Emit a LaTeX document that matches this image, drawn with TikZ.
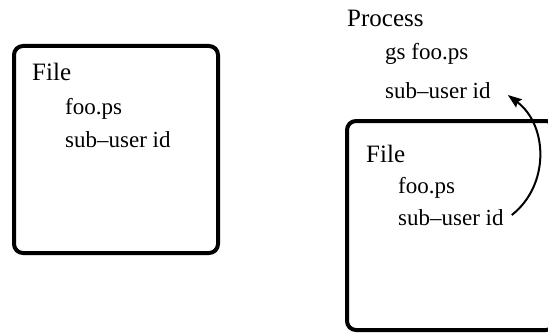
\documentclass[tikz,border=0pt]{standalone}
\usepackage{fontspec}
\setmainfont{Liberation Serif}
\usetikzlibrary{arrows.meta}
\begin{document}
\begin{tikzpicture}[x=1pt,y=-1pt,
  frame/.style={line width=4pt,rounded corners=9pt},
  head/.style={anchor=base west,inner sep=0pt,font=\fontsize{25}{30}\selectfont},
  item/.style={anchor=base west,inner sep=0pt,font=\fontsize{23}{28}\selectfont},
  flow/.style={line width=2pt,-{Stealth[length=14pt,width=10pt,inset=2pt]}}]
\useasboundingbox (0,0) rectangle (548,334);

% standalone file
\draw[frame] (14,46) rectangle (218,253);
\node[head] (fileA) at (32,81) {File};
\node[item] (nameA) at (65,114) {foo.ps};
\node[item] (subA) at (65,147) {sub\textendash user id};

% process reading the file
\node[head] (proc) at (347,27) {Process};
\node[item] (cmd) at (385,60) {gs foo.ps};
\node[item] (subP) at (385,99) {sub\textendash user id};

\draw[frame] (347,121) rectangle (555,330);
\node[head] (fileB) at (366,162) {File};
\node[item] (nameB) at (398,193) {foo.ps};
\node[item] (subB) at (398,225) {sub\textendash user id};

% sub-user id handed from the file to the process
\coordinate (from) at ([xshift=8pt,yshift=10pt]subB.base east);
\coordinate (to) at ([xshift=17pt,yshift=4pt]subP.base east);
\draw[flow] (from) .. controls (550,185) and (548,125) .. (to);
\end{tikzpicture}
\end{document}
